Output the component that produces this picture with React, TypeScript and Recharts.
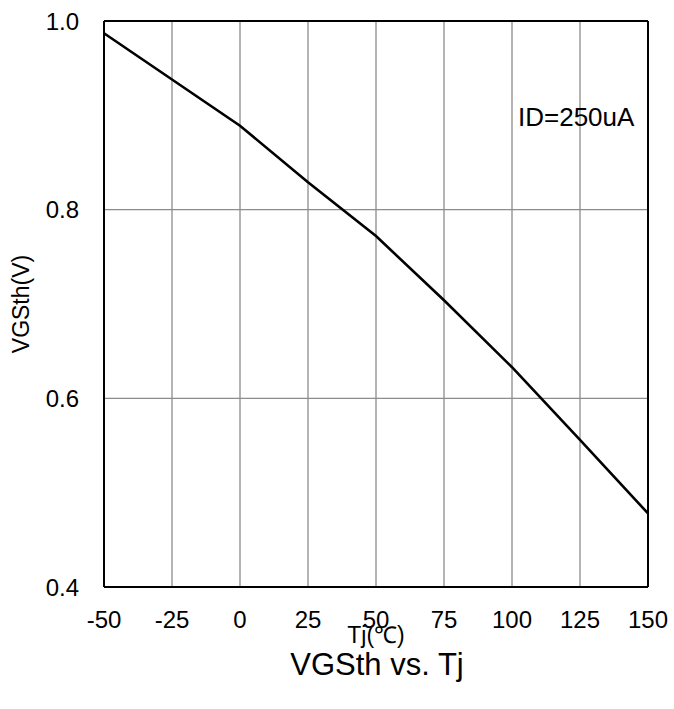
import { LineChart, Line, XAxis, YAxis, CartesianGrid, ReferenceLine, Label } from "recharts";

const tj = [-50, -25, 0, 25, 50, 75, 100, 125, 150];
const vgsth = [0.987, 0.938, 0.889, 0.829, 0.772, 0.704, 0.633, 0.556, 0.478];

const xTicks = [-50, -25, 0, 25, 50, 75, 100, 125, 150];
const yTicks = [0.4, 0.6, 0.8, 1.0];

const data = tj.map((t, i) => ({ tj: t, v: vgsth[i] }));

const font = "Liberation Sans, Arial, sans-serif";

export default function App() {
  return (
    <div style={{ position: "absolute", left: 0, top: 0, width: 674, height: 709, background: "#fff", fontFamily: font }}>
      <LineChart width={674} height={709} data={data} margin={{ top: 21, right: 26, left: 0, bottom: 0 }}>
        <CartesianGrid stroke="#8c8c8c" strokeWidth={1.3} />
        <XAxis
          dataKey="tj"
          type="number"
          domain={[-50, 150]}
          ticks={xTicks}
          height={122}
          tickSize={0}
          tickMargin={24}
          axisLine={{ stroke: "#000", strokeWidth: 2 }}
          tick={{ fill: "#000", fontSize: 24, fontFamily: font }}
        >
          <Label value="Tj(℃)" position="insideTop" offset={40} fill="#000" fontSize={23} fontFamily={font} />
        </XAxis>
        <YAxis
          type="number"
          domain={[0.4, 1.0]}
          ticks={yTicks}
          width={104}
          tickSize={0}
          tickMargin={25}
          tickFormatter={(v) => v.toFixed(1)}
          axisLine={{ stroke: "#000", strokeWidth: 2 }}
          tick={{ fill: "#000", fontSize: 24, fontFamily: font }}
        >
          <Label
            content={() => (
              <text x={21} y={304} transform="rotate(-90 21 304)" textAnchor="middle" dominantBaseline="central" fill="#000" fontSize={23} fontFamily={font}>
                VGSth(V)
              </text>
            )}
          />
        </YAxis>
        <ReferenceLine y={1.0} stroke="#000" strokeWidth={2} />
        <ReferenceLine x={150} stroke="#000" strokeWidth={2} />
        <Line dataKey="v" stroke="#000" strokeWidth={2.6} dot={false} type="linear" isAnimationActive={false} />
      </LineChart>
      <div style={{ position: "absolute", left: 518, top: 102, fontSize: 26, color: "#000" }}>ID=250uA</div>
      <div style={{ position: "absolute", left: 0, width: 754, top: 647, textAlign: "center", fontSize: 31, color: "#000" }}>VGSth vs. Tj</div>
    </div>
  );
}
